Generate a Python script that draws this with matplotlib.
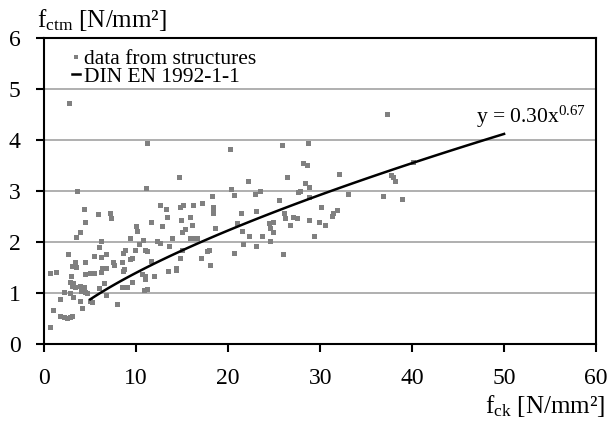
import matplotlib
matplotlib.use("Agg")
import matplotlib.pyplot as plt
import numpy as np

plt.rcParams['font.family'] = ['Liberation Serif', 'DejaVu Serif']
plt.rcParams['mathtext.fontset'] = 'custom'
plt.rcParams['mathtext.rm'] = 'Liberation Serif'
plt.rcParams['mathtext.it'] = 'Liberation Serif:italic'

fck = [2.7, 11.2, 3.55, 11.05, 14.6, 20.2, 4.3, 4.4, 3.9, 3.5, 5.8, 7.2, 7.25,
       2.57, 3.3, 3.0, 3.5, 0.65, 1.3, 4.46, 2.93, 2.75, 3.1, 3.0, 3.3, 3.84,
       4.27, 4.0, 4.46, 4.7, 2.1, 2.75, 3.1, 1.74, 3.9, 4.1, 0.94, 1.74, 2.1,
       2.47, 2.75, 3.0, 0.58, 5.0, 5.2, 7.9, 4.46, 5.0, 5.43, 5.9, 6.2, 5.43,
       6.16, 6.27, 6.16, 6.74, 6.74, 6.45, 6.0, 6.67, 7.5, 7.6, 8.4, 8.6, 8.8,
       8.55, 8.7, 8.45, 9.05, 9.27, 9.27, 9.5, 9.5, 10.0, 10.1, 9.9, 10.25,
       10.7, 11.0, 11.16, 10.6, 11.0, 11.0, 10.8, 11.2, 11.6, 11.6, 11.9,
       12.25, 12.6, 12.6, 13.26, 12.8, 13.4, 13.6, 13.9, 13.5, 14.35, 14.35,
       14.8, 15.1, 14.85, 15.0, 15.3, 14.8, 15.0, 15.8, 16.2, 16.6, 15.9,
       16.05, 16.2, 17.1, 17.0, 17.7, 17.86, 18.0, 18.2, 18.3, 18.3, 18.3,
       18.6, 20.3, 37.3, 25.9, 28.7, 28.1, 28.6, 26.4, 22.1, 32.0, 40.1, 37.7,
       37.9, 38.1, 20.6, 22.9, 23.5, 28.4, 28.8, 27.6, 27.8, 28.8, 25.5, 33.0,
       36.8, 38.9, 21.4, 23.0, 30.1, 26.1, 26.2, 27.0, 27.5, 31.8, 31.4, 31.3,
       21.0, 21.55, 24.4, 24.9, 24.6, 24.9, 26.7, 28.8, 29.9, 30.5, 22.3,
       23.7, 29.3, 21.6, 23.0, 24.6, 20.6, 26.0]
fctm = [4.73, 3.94, 3.01, 3.07, 3.28, 3.83, 2.65, 2.39, 2.21, 2.11, 2.55, 2.58,
        2.48, 1.77, 1.62, 1.53, 1.51, 1.40, 1.41, 1.62, 1.33, 1.23, 1.21, 1.15,
        1.13, 1.15, 1.13, 1.05, 1.03, 1.0, 1.03, 1.0, 0.93, 0.89, 0.84, 0.71,
        0.68, 0.55, 0.53, 0.51, 0.53, 0.55, 0.33, 0.84, 0.82, 0.79, 1.38, 1.40,
        1.40, 1.90, 2.03, 1.74, 1.41, 1.49, 1.72, 1.77, 1.49, 1.20, 1.10, 0.97,
        1.62, 1.55, 1.62, 1.79, 1.84, 1.43, 1.47, 1.13, 1.13, 2.08, 1.67, 1.69,
        1.23, 2.32, 2.23, 1.84, 1.97, 2.04, 1.85, 1.82, 1.38, 1.33, 1.28, 1.07,
        1.08, 2.39, 1.64, 1.33, 2.02, 1.98, 2.73, 2.66, 2.32, 2.49, 1.92, 2.08,
        1.43, 1.45, 1.49, 2.69, 2.73, 2.43, 2.21, 2.26, 1.69, 1.84, 2.08, 2.08,
        2.08, 2.49, 2.34, 2.73, 2.77, 1.69, 1.82, 1.84, 1.56, 2.90, 2.70, 2.64,
        2.58, 2.28, 3.05, 4.51, 3.91, 3.94, 3.55, 3.52, 3.29, 3.21, 3.34, 3.58,
        3.32, 3.29, 3.21, 2.92, 2.95, 3.00, 3.16, 3.09, 2.98, 3.01, 2.89, 2.82,
        2.95, 2.90, 2.85, 2.57, 2.62, 2.69, 2.57, 2.47, 2.49, 2.47, 2.64, 2.58,
        2.51, 2.38, 2.23, 2.38, 2.39, 2.28, 2.21, 2.34, 2.43, 2.39, 2.33, 2.13,
        2.13, 2.13, 1.97, 1.92, 2.02, 1.79, 1.77]

# DIN EN 1992-1-1 relation y = 0.30 x^0.67, drawn for f_ck 5..50
coef = 0.30
expo = 0.67
x_start, x_end = 5, 50

fig = plt.figure(figsize=(6.09, 4.21), dpi=100)
ax = fig.add_axes([0.0727, 0.1822, 0.9060, 0.7268])

ax.yaxis.grid(True, color='#9a9a9a', linewidth=1.1)
ax.set_axisbelow(True)

ax.plot(fck, fctm, 's', color='#808080', markersize=3.6, markeredgewidth=0,
        label='data from structures', zorder=2)
xc = np.linspace(x_start, x_end, 100)
ax.plot(xc, coef * xc ** expo, color='black', linewidth=1.8,
        label='DIN EN 1992-1-1', zorder=3)

ax.text(46.9, 4.34, 'y = 0.30x$^{0.67}$', fontsize=15.5)

ax.set_xlim(0, 60)
ax.set_ylim(0, 6)
ax.set_xticks(range(0, 61, 10))
ax.set_yticks(range(0, 7))
ax.tick_params(labelsize=17, length=6, width=1.5, direction='out', pad=11)
for s in ax.spines.values():
    s.set_linewidth(1.5)

leg = ax.legend(loc='upper left', bbox_to_anchor=(0.05, 0.965), frameon=False,
                fontsize=15.5, handlelength=0.4, handletextpad=0.15,
                labelspacing=-0.1, borderpad=0, borderaxespad=0, markerscale=0.8)

fig.text(0.061, 0.936, 'f$_{\\mathrm{ctm}}$ [N/mm²]', fontsize=18, va='baseline')
fig.text(0.994, 0.019, 'f$_{\\mathrm{ck}}$ [N/mm²]', fontsize=18, va='baseline', ha='right')

fig.savefig('out.png', dpi=100)
